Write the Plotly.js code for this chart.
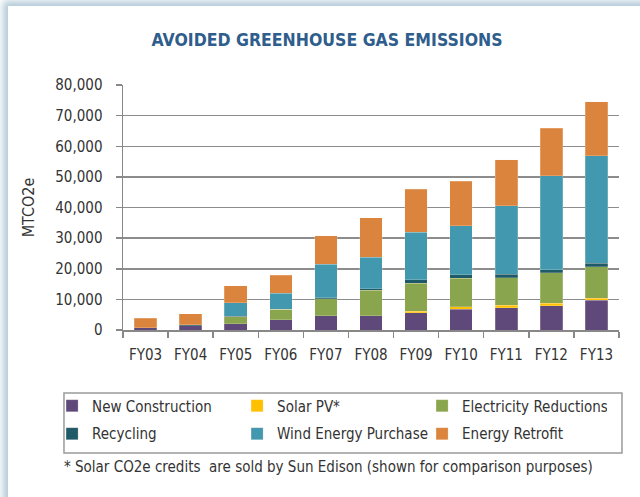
<!DOCTYPE html>
<html>
<head>
<meta charset="utf-8">
<script src="https://cdn.plot.ly/plotly-3.0.1.min.js"></script>
<style>
  html, body { margin: 0; padding: 0; background: #ffffff; }
  #frame { position: absolute; left: 0; top: 0; width: 640px; height: 497px; overflow: hidden; background: #ffffff; }
  #shadow { position: absolute; left: 8px; top: 6px; width: 660px; height: 520px; background: #ffffff;
            box-shadow: -3px -3px 7px 2px rgba(120,160,185,0.55); }
  #chart { position: absolute; left: 0; top: 0; width: 640px; height: 497px; }
  svg text { font-stretch: condensed !important; }
</style>
</head>
<body>
<div id="frame">
  <div id="shadow"></div>
  <div id="chart"></div>
</div>
<script>
const categories = ["FY03","FY04","FY05","FY06","FY07","FY08","FY09","FY10","FY11","FY12","FY13"];
const newConstruction = [700, 1450, 2000, 3300, 4700, 4700, 5600, 6700, 7300, 7900, 9700];
const solarPV         = [0, 0, 0, 0, 0, 0, 500, 900, 750, 900, 700];
const electricity     = [0, 0, 2300, 3400, 5500, 8200, 9200, 9300, 9000, 9900, 10300];
const recycling       = [100, 200, 200, 100, 400, 500, 1100, 1100, 1100, 900, 1100];
const windEnergy      = [0, 0, 4400, 5200, 10800, 10300, 15500, 16000, 22400, 30700, 35100];
const energyRetrofit  = [3100, 3700, 5500, 5800, 9300, 13000, 14000, 14600, 15100, 15500, 17600];
const seriesNames  = ["New Construction","Solar PV*","Electricity Reductions","Recycling","Wind Energy Purchase","Energy Retrofit"];
const seriesColors = ["#5E497A","#FFC000","#89A54E","#1F5A68","#4198AF","#DB843D"];
const seriesLegend = ["legend","legend","legend","legend2","legend2","legend2"];
const yTickVals = [0,10000,20000,30000,40000,50000,60000,70000,80000];
const yTickText = ["0","10,000","20,000","30,000","40,000","50,000","60,000","70,000","80,000"];
const chartTitle = "AVOIDED GREENHOUSE GAS EMISSIONS";
const yTitle = "MTCO2e";
const footnote = "* Solar CO2e credits  are sold by Sun Edison (shown for comparison purposes)";

const FONT = "'DejaVu Sans Condensed', 'DejaVu Sans', sans-serif";
const values = [newConstruction, solarPV, electricity, recycling, windEnergy, energyRetrofit];

const traces = values.map((v, i) => ({
  type: "bar",
  name: seriesNames[i],
  legend: seriesLegend[i],
  x: categories,
  y: v,
  marker: { color: seriesColors[i], line: { color: "rgba(255,240,230,0.45)", width: 0.5 } },
  hoverinfo: "x+y+name"
}));

const legendCommon = {
  orientation: "h",
  traceorder: "normal",
  x: -0.143, xanchor: "left",
  yanchor: "middle",
  entrywidth: 140,
  itemclick: false,
  font: { family: FONT, size: 15, color: "#333333" },
  bgcolor: "rgba(0,0,0,0)",
  borderwidth: 0
};

const layout = {
  width: 640, height: 497,
  paper_bgcolor: "rgba(0,0,0,0)",
  plot_bgcolor: "rgba(0,0,0,0)",
  margin: { l: 123, r: 21, t: 85, b: 167 },
  barmode: "stack",
  bargap: 0.5,
  showlegend: true,
  font: { family: FONT, color: "#333333", size: 15 },
  title: {
    text: "<b>" + chartTitle + "</b>",
    x: 0.511, xanchor: "center", xref: "container",
    y: 0.92, yanchor: "middle", yref: "container",
    font: { family: FONT, size: 17.5, color: "#2F5D8C" }
  },
  xaxis: {
    type: "category",
    tickangle: 0,
    showline: true, linecolor: "#888888", linewidth: 1.5,
    ticks: "outside", tickson: "boundaries", ticklen: 6, tickcolor: "#888888", tickwidth: 1.5,
    ticklabelstandoff: 10,
    showgrid: false,
    tickfont: { family: FONT, size: 15, color: "#333333" }
  },
  yaxis: {
    range: [0, 80000],
    tickvals: yTickVals, ticktext: yTickText,
    showline: true, linecolor: "#888888", linewidth: 1.5,
    ticks: "outside", ticklen: 6, tickcolor: "#888888", tickwidth: 1.5,
    ticklabelstandoff: 10,
    showgrid: true, gridcolor: "#8c8c8c", gridwidth: 1.5,
    zeroline: false,
    tickfont: { family: FONT, size: 15, color: "#333333" },
    title: { text: yTitle, standoff: 16, font: { family: FONT, size: 16, color: "#333333" } }
  },
  legend: Object.assign({}, legendCommon, { y: -0.310 }),
  legend2: Object.assign({}, legendCommon, { y: -0.424 }),
  shapes: [{
    type: "rect", xref: "paper", yref: "paper",
    x0: -0.119, x1: 1.006, y0: -0.257, y1: -0.502,
    line: { color: "#9a9a9a", width: 1.5 }, fillcolor: "rgba(0,0,0,0)", layer: "below"
  }],
  annotations: [{
    text: footnote, xref: "paper", yref: "paper",
    x: -0.123, xanchor: "left", y: -0.559, yanchor: "middle",
    showarrow: false,
    font: { family: FONT, size: 15, color: "#333333" }
  }]
};

Plotly.newPlot("chart", traces, layout, { displayModeBar: false, staticPlot: true });
</script>
</body>
</html>
